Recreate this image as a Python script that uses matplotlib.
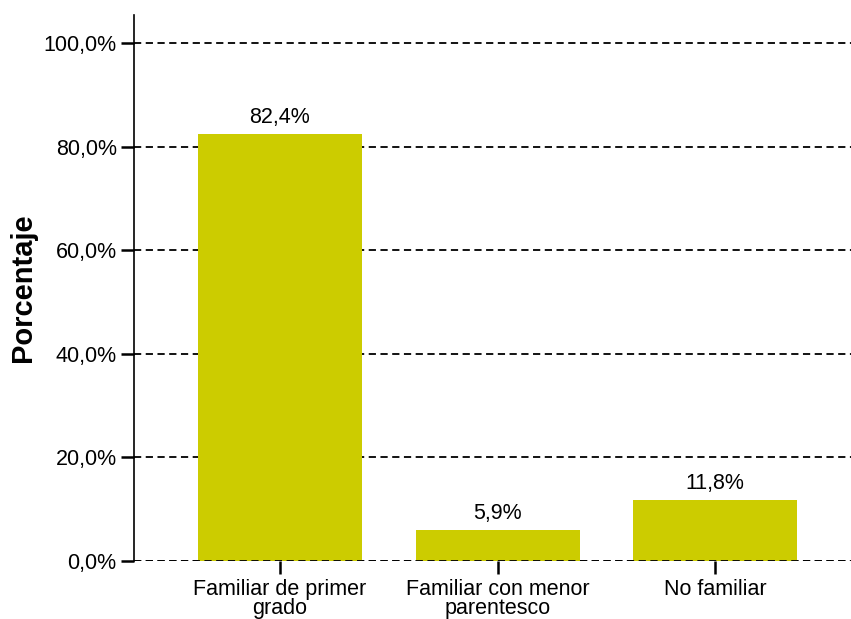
import matplotlib
matplotlib.use('Agg')
from matplotlib import pyplot as plt

categories = ['Familiar de primer\ngrado', 'Familiar con menor\nparentesco', 'No familiar']
porcentajes = [82.4, 5.9, 11.8]
y_ticks = [0, 20, 40, 60, 80, 100]

plt.rcParams['font.family'] = ['Liberation Sans', 'DejaVu Sans']

fig = plt.figure(figsize=(8.51, 6.19), dpi=100)
ax = fig.add_axes([0.1575, 0.0937, 0.8425, 0.8821])

x = list(range(len(categories)))
bars = ax.bar(x, porcentajes, width=0.754, color='#cccc00', zorder=2)

for xi, v in zip(x, porcentajes):
    ax.annotate(f'{v:.1f}%'.replace('.', ','), (xi, v), xytext=(0, 4.5),
                textcoords='offset points', ha='center', va='bottom', fontsize=15.5)

ax.set_xlim(-0.671, 2.625)
ax.set_ylim(0, 105.4)
ax.set_yticks(y_ticks)
ax.set_yticklabels([f'{t:.1f}%'.replace('.', ',') for t in y_ticks], fontsize=15.5)
ax.set_xticks(x)
ax.set_xticklabels(categories, fontsize=15.5, linespacing=0.9)

ax.yaxis.grid(True, linestyle=(0, (4, 2.5)), color='black', linewidth=1.3)
ax.axhline(0, linestyle=(0, (4, 2.5)), color='black', linewidth=1.3, zorder=3)
ax.set_axisbelow(True)

for side in ['top', 'right', 'bottom']:
    ax.spines[side].set_visible(False)
ax.spines['left'].set_linewidth(1.2)

ax.tick_params(axis='y', length=9.5, width=1.8, pad=3)
ax.tick_params(axis='x', length=9, width=1.8, pad=4)

ax.set_ylabel('Porcentaje', fontsize=21, fontweight='bold', labelpad=5)

fig.savefig('out.png', dpi=100)
